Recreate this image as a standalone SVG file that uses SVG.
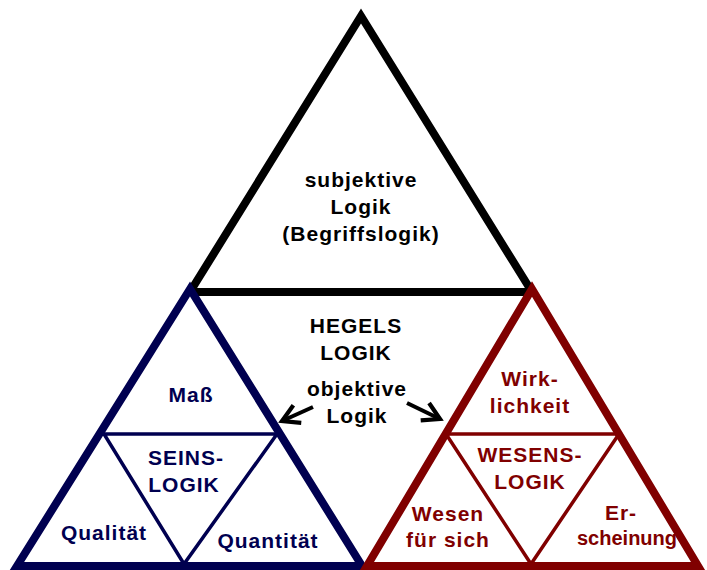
<svg xmlns="http://www.w3.org/2000/svg" width="707" height="570" viewBox="0 0 707 570">
<style>
  .t { font-family: "Liberation Sans", Arial, sans-serif; font-weight: bold; font-size: 21px; letter-spacing: 1px; text-anchor: middle; }
  .tight { font-size: 20px; letter-spacing: 0px; }
  .k { fill: #000000; }
  .b { fill: #000050; }
  .r { fill: #800000; }
  .outer { fill: none; stroke-width: 8; stroke-linejoin: miter; stroke-miterlimit: 10; }
  .inner { fill: none; stroke-width: 3.5; stroke-linejoin: miter; }
  .arrow { fill: none; stroke: #000; stroke-width: 4; }
</style>
<defs>
  <marker id="ah" markerUnits="userSpaceOnUse" markerWidth="24" markerHeight="24" refX="16" refY="10" orient="auto" viewBox="0 0 20 20">
    <polyline points="2,2 16,10 2,18" fill="none" stroke="#000" stroke-width="3.5"/>
  </marker>
</defs>
<rect width="707" height="570" fill="#ffffff"/>

<g id="subjektive-logik">
  <polygon class="outer" stroke="#000000" points="361,16 190,292 532,292"/>
  <text class="t k" x="361" y="187">subjektive</text>
  <text class="t k" x="361" y="214">Logik</text>
  <text class="t k" x="361" y="241">(Begriffslogik)</text>
</g>

<g id="hegels-logik">
  <text class="t k" x="356" y="333">HEGELS</text>
  <text class="t k" x="356" y="360">LOGIK</text>
  <text class="t k" x="357" y="396">objektive</text>
  <text class="t k" x="357" y="423">Logik</text>
</g>

<g id="seinslogik">
  <polygon class="outer" stroke="#000050" points="190,289 17,566 362,566"/>
  <polygon class="inner" stroke="#000050" points="104,434 277,434 184,564"/>
  <text class="t b" x="191" y="402">Maß</text>
  <text class="t b" x="186" y="465">SEINS-</text>
  <text class="t b" x="184" y="492">LOGIK</text>
  <text class="t b" x="104" y="540">Qualität</text>
  <text class="t b" x="268" y="548">Quantität</text>
</g>

<g id="wesenslogik">
  <polygon class="outer" stroke="#800000" points="532,289 367,566 698,566"/>
  <polygon class="inner" stroke="#800000" points="446,434 619,434 531,564"/>
  <text class="t r" x="530" y="386">Wirk-</text>
  <text class="t r" x="530" y="413">lichkeit</text>
  <text class="t r" x="530" y="462">WESENS-</text>
  <text class="t r" x="530" y="489">LOGIK</text>
  <text class="t r" x="448" y="521">Wesen</text>
  <text class="t r" x="448" y="547">für sich</text>
  <text class="t r" x="621" y="520">Er-</text>
  <text class="t tight r" x="627" y="545">scheinung</text>
</g>

<g id="connectors">
  <line class="arrow" x1="313" y1="407" x2="282" y2="421" marker-end="url(#ah)"/>
  <line class="arrow" x1="407" y1="403" x2="440" y2="419" marker-end="url(#ah)"/>
</g>
</svg>
